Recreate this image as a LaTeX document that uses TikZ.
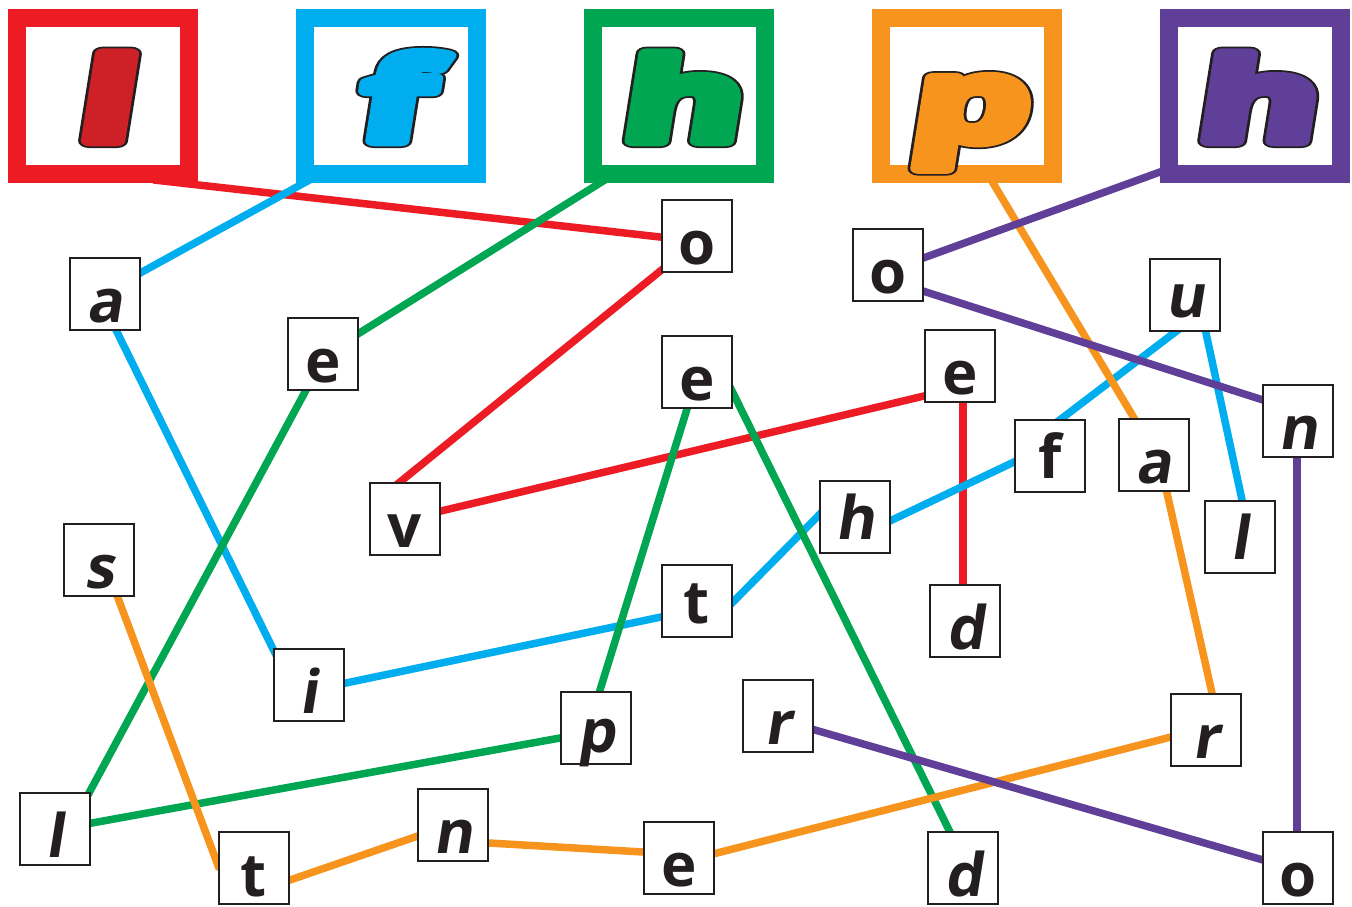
\documentclass[tikz,border=0pt]{standalone}
\usepackage{fontspec}
\usetikzlibrary{calc}
\newfontfamily\lfont{Open Sans}
\newfontfamily\lslfont{Open Sans}[FakeSlant=0.16]
\newfontfamily\bigfont{Open Sans}[FakeSlant=0.1]
\definecolor{cred}{HTML}{ED1C24}
\definecolor{credd}{HTML}{CE2127}
\definecolor{cblue}{HTML}{00AEEF}
\definecolor{cgreen}{HTML}{00A651}
\definecolor{corange}{HTML}{F7941D}
\definecolor{cpurple}{HTML}{603F98}
\definecolor{ink}{HTML}{231F20}
\newcommand\strk[3]{{\color{#1}\special{pdf:literal direct 2 Tr #2 w 1 j}#3\special{pdf:literal direct 0 Tr 0 j}}}
\newcommand\topletter[2]{\scalebox{1.6}[1]{\bigfont\bfseries\fontsize{115}{115}\selectfont
  \rlap{\strk{ink}{14}{#2}}\strk{#1}{10.5}{#2}}}
\pgfdeclarelayer{bg}
\pgfsetlayers{bg,main}
\tikzset{
  lbox/.style={draw=ink, line width=2.4pt, fill=white, minimum width=70pt, minimum height=72pt,
    inner sep=0pt, text height=57pt, text depth=0pt, text=ink,
    font=\lfont\bfseries\fontsize{60}{60}\selectfont},
  hi/.style={text height=44pt},
  sl/.style={font=\lslfont\bfseries\fontsize{60}{60}\selectfont},
  topbox/.style={draw=#1, line width=18pt, fill=white, minimum width=172pt, minimum height=156pt,
    inner sep=0pt, text height=90pt, text depth=0pt},
  conn/.style={line width=7.5pt, draw=#1, shorten <=-10pt, shorten >=-10pt},
}
\begin{document}
\begin{tikzpicture}[x=1pt,y=-1pt]
\useasboundingbox (0,0) rectangle (1352,907);
% top boxes
\node[topbox=cred]    (L)  at (103,96)    {\topletter{credd}{l}};
\node[topbox=cblue]   (F)  at (390.5,96)  {\topletter{cblue}{f}};
\node[topbox=cgreen]  (H)  at (679,96)    {\topletter{cgreen}{h}};
\node[topbox=corange] (P)  at (967,96)    {\topletter{corange}{p}};
\node[topbox=cpurple] (Hb) at (1254.5,96) {\topletter{cpurple}{h}};
% letter boxes
\node[lbox,sl]    (a1) at (105,294)  {a};
\node[lbox]       (e1) at (323,354)  {e};
\node[lbox]       (o1) at (697,236)  {o};
\node[lbox]       (o2) at (888,265)  {o};
\node[lbox,sl,hi] (u1) at (1185,295) {u};
\node[lbox]       (e2) at (697,372)  {e};
\node[lbox]       (e3) at (960,366)  {e};
\node[lbox,sl]    (n1) at (1298,421) {n};
\node[lbox,hi]    (f1) at (1050,456) {f};
\node[lbox,sl]    (a2) at (1154,455) {a};
\node[lbox,sl,hi] (l2) at (1240,537) {l};
\node[lbox]       (v1) at (405,519)  {v};
\node[lbox,sl,hi] (h1) at (855,517)  {h};
\node[lbox,sl]    (s1) at (99,560)   {s};
\node[lbox,hi]    (t1) at (697,601)  {t};
\node[lbox,sl]    (d1) at (965,621)  {d};
\node[lbox,sl]    (i1) at (309,685)  {i};
\node[lbox,sl,text height=48pt] (p1) at (596,728) {p};
\node[lbox,sl]    (r1) at (778,716)  {r};
\node[lbox,sl]    (r2) at (1206,730) {r};
\node[lbox,sl]    (l1) at (55,829)   {l};
\node[lbox,sl]    (n2) at (453,825)  {n};
\node[lbox]       (t2) at (254,868)  {t};
\node[lbox]       (e4) at (679,858)  {e};
\node[lbox,sl]    (d2) at (963,868)  {d};
\node[lbox]       (o3) at (1298,868) {o};
% connectors
\begin{pgfonlayer}{bg}
% red: l o v e d
\draw[conn=cred] ($(L)+(60,85)$)   -- ($(o1)+(-37,1)$);
\draw[conn=cred] ($(o1)+(-33,32)$) -- ($(v1)+(-5,-37)$);
\draw[conn=cred] ($(v1)+(36,-8)$)  -- ($(e3)+(-36,30)$);
\draw[conn=cred] ($(e3)+(3,37)$)   -- ($(d1)+(-2,-37)$);
% blue: f a i t h f u l
\draw[conn=cblue] ($(F)+(-86.5,87)$) -- ($(a1)+(37,-22)$);
\draw[conn=cblue] ($(a1)+(12,38)$)   -- ($(i1)+(-34,-32)$);
\draw[conn=cblue] ($(i1)+(37,-2)$)   -- ($(t1)+(-36,16)$);
\draw[conn=cblue] ($(t1)+(36,1)$)    -- ($(h1)+(-34,-4)$);
\draw[conn=cblue] ($(h1)+(37,3)$)    -- ($(f1)+(-36,6)$);
\draw[conn=cblue] ($(f1)+(11,-37)$)  -- ($(u1)+(-11,38)$);
\draw[conn=cblue] ($(u1)+(21,38)$)   -- ($(l2)+(2,-37)$);
% green: h e l p e d
\draw[conn=cgreen] ($(H)+(-79,87)$)  -- ($(e1)+(38,-22)$);
\draw[conn=cgreen] ($(e1)+(-18,38)$) -- ($(l1)+(34,-36)$);
\draw[conn=cgreen] ($(l1)+(37,-6)$)  -- ($(p1)+(-36,10)$);
\draw[conn=cgreen] ($(p1)+(4,-38)$)  -- ($(e2)+(-10,37)$);
\draw[conn=cgreen] ($(e2)+(36,21)$)  -- ($(d2)+(-14,-38)$);
% orange: p a r e n t s
\draw[conn=corange] ($(P)+(26,87)$)   -- ($(a2)+(-20,-37)$);
\draw[conn=corange] ($(a2)+(13,38)$)  -- ($(r2)+(6,-37)$);
\draw[conn=corange] ($(r2)+(-35,7)$)  -- ($(e4)+(38,-5)$);
\draw[conn=corange] ($(e4)+(-36,-6)$) -- ($(n2)+(36,18)$);
\draw[conn=corange] ($(n2)+(-38,12)$) -- ($(t2)+(36,12)$);
\draw[conn=corange] ($(t2)+(-38,-8)$) -- ($(s1)+(19,38)$);
% purple: h o n o r
\draw[conn=cpurple] ($(Hb)+(-94.5,76)$) -- ($(o2)+(38,-8)$);
\draw[conn=cpurple] ($(o2)+(38,27)$)    -- ($(n1)+(-35,-21)$);
\draw[conn=cpurple] ($(n1)+(-1,37)$)    -- ($(o3)+(-1,-37)$);
\draw[conn=cpurple] ($(o3)+(-35,-8)$)   -- ($(r1)+(37,14)$);
\end{pgfonlayer}
\end{tikzpicture}
\end{document}
